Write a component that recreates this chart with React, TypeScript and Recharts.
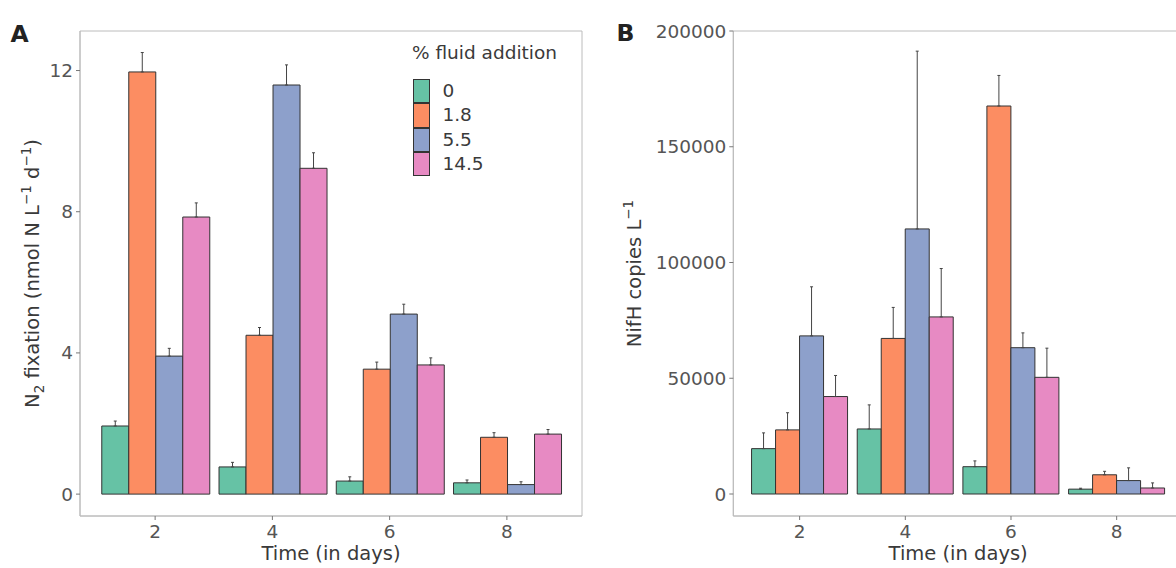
import React from 'react';
import { BarChart, Bar, XAxis, YAxis, ErrorBar, Legend, CartesianGrid } from 'recharts';

// ---------- data ----------
const days = ['2', '4', '6', '8'];
const groups = ['0', '1.8', '5.5', '14.5'];
const colors = ['#66c2a5', '#fc8d62', '#8da0cb', '#e78ac3'];

// Panel A: N2 fixation (nmol N L-1 d-1), mean per group across days
const fixG0 = [1.93, 0.77, 0.37, 0.32];
const fixG1 = [11.96, 4.5, 3.54, 1.61];
const fixG2 = [3.91, 11.59, 5.1, 0.27];
const fixG3 = [7.85, 9.23, 3.66, 1.7];
const fixErr0 = [0.14, 0.13, 0.12, 0.08];
const fixErr1 = [0.55, 0.22, 0.2, 0.13];
const fixErr2 = [0.22, 0.57, 0.28, 0.08];
const fixErr3 = [0.4, 0.44, 0.2, 0.13];
const fixTicks = [0, 4, 8, 12];

// Panel B: NifH copies L-1
const nifG0 = [19600, 28100, 11800, 2100];
const nifG1 = [27700, 67200, 167600, 8300];
const nifG2 = [68300, 114500, 63200, 5800];
const nifG3 = [42100, 76500, 50400, 2600];
const nifErr0 = [6800, 10400, 2500, 400];
const nifErr1 = [7400, 13400, 13200, 1500];
const nifErr2 = [21200, 76800, 6400, 5500];
const nifErr3 = [9100, 20900, 12600, 2200];
const nifTicks = [0, 50000, 100000, 150000, 200000];

function buildRows(means: number[][], errs: number[][]) {
  return days.map((d, i) => {
    const row: any = { day: d };
    groups.forEach((_, j) => {
      row['s' + j] = means[j][i];
      row['e' + j] = [0, errs[j][i]];
    });
    return row;
  });
}

const rowsA = buildRows([fixG0, fixG1, fixG2, fixG3], [fixErr0, fixErr1, fixErr2, fixErr3]);
const rowsB = buildRows([nifG0, nifG1, nifG2, nifG3], [nifErr0, nifErr1, nifErr2, nifErr3]);

// ---------- styles ----------
const FONT = "'DejaVu Sans', 'Liberation Sans', sans-serif";
const BORDER = '#bcbcbc';
const TICK_TEXT = '#555555';
const TITLE_TEXT = '#3a3a3a';
const TICK_LINE = '#777777';

const XTitle = (props: any) => {
  const vb = props.viewBox || { x: 0, y: 0, width: 0, height: 0 };
  return (
    <text
      x={vb.x + vb.width / 2}
      y={vb.y + 44}
      textAnchor="middle"
      fontFamily={FONT}
      fontSize={19.5}
      fill={TITLE_TEXT}
    >
      Time (in days)
    </text>
  );
};

const makeYTitleA = (offsetX: number) => (props: any) => {
  const vb = props.viewBox || { x: 0, y: 0, width: 0, height: 0 };
  const cx = vb.x + offsetX;
  const cy = vb.y + vb.height / 2;
  return (
    <text
      x={cx}
      y={cy}
      transform={`rotate(-90 ${cx} ${cy})`}
      textAnchor="middle"
      fontFamily={FONT}
      fontSize={19.5}
      fill={TITLE_TEXT}
    >
      <tspan>N</tspan>
      <tspan dy={5} fontSize={13.5}>2</tspan>
      <tspan dy={-5}> fixation (nmol N L</tspan>
      <tspan dy={-8} fontSize={13.5}>−1</tspan>
      <tspan dy={8}> d</tspan>
      <tspan dy={-8} fontSize={13.5}>−1</tspan>
      <tspan dy={8}>)</tspan>
    </text>
  );
};

const makeYTitleB = (offsetX: number) => (props: any) => {
  const vb = props.viewBox || { x: 0, y: 0, width: 0, height: 0 };
  const cx = vb.x + offsetX;
  const cy = vb.y + vb.height / 2;
  return (
    <text
      x={cx}
      y={cy}
      transform={`rotate(-90 ${cx} ${cy})`}
      textAnchor="middle"
      fontFamily={FONT}
      fontSize={19.5}
      fill={TITLE_TEXT}
    >
      <tspan>NifH copies L</tspan>
      <tspan dy={-8} fontSize={13.5}>−1</tspan>
    </text>
  );
};

const renderLegend = () => {
  return (
    <div style={{ fontFamily: FONT, color: TITLE_TEXT }}>
      <div style={{ fontSize: 18.5, lineHeight: '24px', whiteSpace: 'nowrap' }}>% fluid addition</div>
      <div style={{ marginTop: 14, marginLeft: 1 }}>
        {groups.map((g: string, i: number) => (
          <div key={g} style={{ display: 'flex', alignItems: 'center', height: 24.3 }}>
            <div
              style={{
                width: 17.4,
                height: 24.3,
                boxSizing: 'border-box',
                border: '1px solid #333',
                background: colors[i],
              }}
            />
            <div style={{ marginLeft: 12, fontSize: 18.5, lineHeight: '24px', whiteSpace: 'nowrap' }}>{g}</div>
          </div>
        ))}
      </div>
    </div>
  );
};

const hBorder = (p: any) => {
  const o = p && p.offset ? p.offset : { top: 0, height: 0 };
  return [o.top, o.top + o.height];
};
const vBorder = (p: any) => {
  const o = p && p.offset ? p.offset : { left: 0, width: 0 };
  return [o.left, o.left + o.width];
};

function Panel(props: {
  rows: any[];
  width: number;
  yWidth: number;
  rightMargin: number;
  domain: [number, number];
  ticks: number[];
  pad: number;
  yTitle: any;
  legend?: boolean;
}) {
  const { rows, width, yWidth, rightMargin, domain, ticks, pad, yTitle, legend } = props;
  const tickStyle = { fill: TICK_TEXT, fontSize: 18.5, fontFamily: FONT };
  return (
    <BarChart
      width={width}
      height={568}
      data={rows}
      margin={{ top: 31, right: rightMargin, bottom: 0, left: 0 }}
      barCategoryGap="4.5%"
      barGap={0}
    >
      <CartesianGrid
        stroke={BORDER}
        strokeWidth={1}
        horizontalCoordinatesGenerator={hBorder}
        verticalCoordinatesGenerator={vBorder}
      />
      <XAxis
        dataKey="day"
        height={52}
        padding={{ left: pad, right: pad }}
        tick={tickStyle}
        tickSize={4}
        tickMargin={5}
        tickLine={{ stroke: TICK_LINE }}
        axisLine={{ stroke: BORDER }}
        label={XTitle}
      />
      <YAxis
        width={yWidth}
        domain={domain}
        ticks={ticks}
        allowDataOverflow
        interval={0}
        tick={tickStyle}
        tickSize={4}
        tickMargin={3}
        tickLine={{ stroke: TICK_LINE }}
        axisLine={{ stroke: BORDER }}
        label={yTitle}
      />
      {legend ? (
        <Legend
          layout="vertical"
          align="center"
          verticalAlign="middle"
          wrapperStyle={{ left: 412, top: 41, width: 170, height: 140 }}
          content={renderLegend}
        />
      ) : null}
      {groups.map((g, j) => (
        <Bar
          key={g}
          dataKey={'s' + j}
          name={g}
          fill={colors[j]}
          stroke="#333333"
          strokeWidth={1}
          isAnimationActive={false}
        >
          <ErrorBar dataKey={'e' + j} width={1.5} stroke="#444444" strokeWidth={1} direction="y" />
        </Bar>
      ))}
    </BarChart>
  );
}

export default function App() {
  return (
    <div
      style={{
        position: 'absolute',
        left: 0,
        top: 0,
        width: 1176,
        height: 568,
        overflow: 'hidden',
        background: '#ffffff',
        fontFamily: FONT,
      }}
    >
      <div style={{ position: 'absolute', left: 0, top: 0 }}>
        <Panel
          rows={rowsA}
          width={590}
          yWidth={80}
          rightMargin={8}
          domain={[-0.62, 13.12]}
          ticks={fixTicks}
          pad={16.5}
          yTitle={makeYTitleA(39)}
          legend
        />
      </div>
      <div style={{ position: 'absolute', left: 590, top: 0 }}>
        <Panel
          rows={rowsB}
          width={600}
          yWidth={143.3}
          rightMargin={7}
          domain={[-9500, 200000]}
          ticks={nifTicks}
          pad={13.5}
          yTitle={makeYTitleB(51)}
        />
      </div>
      <svg width={1176} height={568} style={{ position: 'absolute', left: 0, top: 0, pointerEvents: 'none' }}>
        <text x={10.5} y={41.7} fontFamily={FONT} fontWeight="bold" fontSize={23.5} fill="#222">A</text>
        <text x={616.5} y={40.7} fontFamily={FONT} fontWeight="bold" fontSize={23.5} fill="#222">B</text>
      </svg>
    </div>
  );
}
